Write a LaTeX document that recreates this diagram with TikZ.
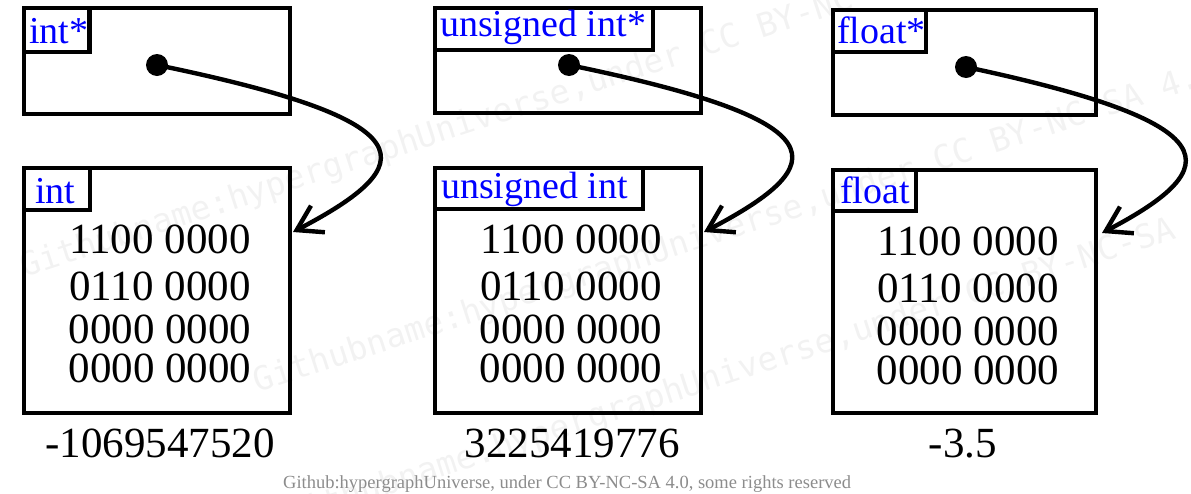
\documentclass[tikz,border=0pt]{standalone}
\usepackage{fontspec}
\setmainfont{Liberation Serif}
\newfontfamily\wmfont{DejaVu Sans Mono}
\usetikzlibrary{arrows.meta}
\begin{document}
\begin{tikzpicture}[x=1pt,y=-1pt,
  box/.style={draw,line width=4.7pt,inner sep=0pt,outer sep=0pt,anchor=north west,rectangle},
  lbl/.style={text=blue,font=\fontsize{38}{40}\selectfont,inner sep=0pt,anchor=base west},
  bits/.style={font=\fontsize{43}{45}\selectfont,inner sep=0pt,anchor=base},
  dotn/.style={circle,fill,inner sep=0pt,minimum size=22pt},
  ptr/.style={line width=4.4pt,-{Straight Barb[length=24pt,width=30pt]}},
  wm/.style={text=black!5,font=\wmfont\fontsize{33}{35}\selectfont,rotate=18,anchor=base west,inner sep=0pt},
  foot/.style={text=black!45,font=\fontsize{18.5}{20}\selectfont,inner sep=0pt,anchor=base west}]
\useasboundingbox (0,0) rectangle (1191,493);
% watermark
\node[wm] (w1) at (24,278) {Githubname:hypergraphUniverse,under CC BY-NC-SA 4.0};
\node[wm] (w2) at (257,393) {Githubname:hypergraphUniverse,under CC BY-NC-SA 4.0};
\node[wm] (w3) at (289,527) {Githubname:hypergraphUniverse,under CC BY-NC-SA 4.0};
% column 1
\node[box,minimum width=266pt,minimum height=106pt] (p1) at (24,8) {};
\node[box,minimum width=65.5pt,minimum height=44pt] (pl1) at (24,8) {};
\node[lbl] (pt1) at (29,43) {int*};
\node[box,minimum width=266pt,minimum height=245pt] (v1) at (24,168) {};
\node[box,minimum width=66pt,minimum height=42pt] (vl1) at (24,168) {};
\node[lbl] (vt1) at (35,203) {int};
\node[bits] (a1) at (160,253) {1100 0000};
\node[bits] (b1) at (160,300) {0110 0000};
\node[bits] (c1) at (160,343) {0000 0000};
\node[bits] (e1) at (160,382) {0000 0000};
\node[bits] (r1) at (160,457) {-1069547520};
\coordinate (t1) at (293,232);
\draw[ptr] (157,65) .. controls +(272,56) and +(130,-68) .. (t1);
\node[dotn] (d1) at (157,65) {};
% column 2
\node[box,minimum width=266pt,minimum height=105pt] (p2) at (435,8) {};
\node[box,minimum width=218pt,minimum height=42pt] (pl2) at (435,8) {};
\node[lbl] (pt2) at (440,36) {unsigned int*};
\node[box,minimum width=266pt,minimum height=245pt] (v2) at (435,168) {};
\node[box,minimum width=208pt,minimum height=41pt] (vl2) at (435,168) {};
\node[lbl] (vt2) at (441,198) {unsigned int};
\node[bits] (a2) at (571,253) {1100 0000};
\node[bits] (b2) at (571,300) {0110 0000};
\node[bits] (c2) at (571,343) {0000 0000};
\node[bits] (e2) at (571,382) {0000 0000};
\node[bits] (r2) at (572,457) {3225419776};
\coordinate (t2) at (704,232);
\draw[ptr] (569,65) .. controls +(272,56) and +(130,-68) .. (t2);
\node[dotn] (d2) at (569,65) {};
% column 3
\node[box,minimum width=263pt,minimum height=105pt] (p3) at (833,10) {};
\node[box,minimum width=93pt,minimum height=42pt] (pl3) at (833,10) {};
\node[lbl] (pt3) at (837,43) {float*};
\node[box,minimum width=263pt,minimum height=243pt] (v3) at (833,170) {};
\node[box,minimum width=83pt,minimum height=41pt] (vl3) at (833,170) {};
\node[lbl] (vt3) at (840,203) {float};
\node[bits] (a3) at (968,255) {1100 0000};
\node[bits] (b3) at (968,302) {0110 0000};
\node[bits] (c3) at (968,345) {0000 0000};
\node[bits] (e3) at (968,384) {0000 0000};
\node[bits] (r3) at (963,457) {-3.5};
\coordinate (t3) at (1102,233);
\draw[ptr] (966,67) .. controls +(264,56) and +(126,-66) .. (t3);
\node[dotn] (d3) at (966,67) {};
% footer
\node[foot] (ft) at (283,488) {Github:hypergraphUniverse, under CC BY-NC-SA 4.0, some rights reserved};
\end{tikzpicture}
\end{document}
